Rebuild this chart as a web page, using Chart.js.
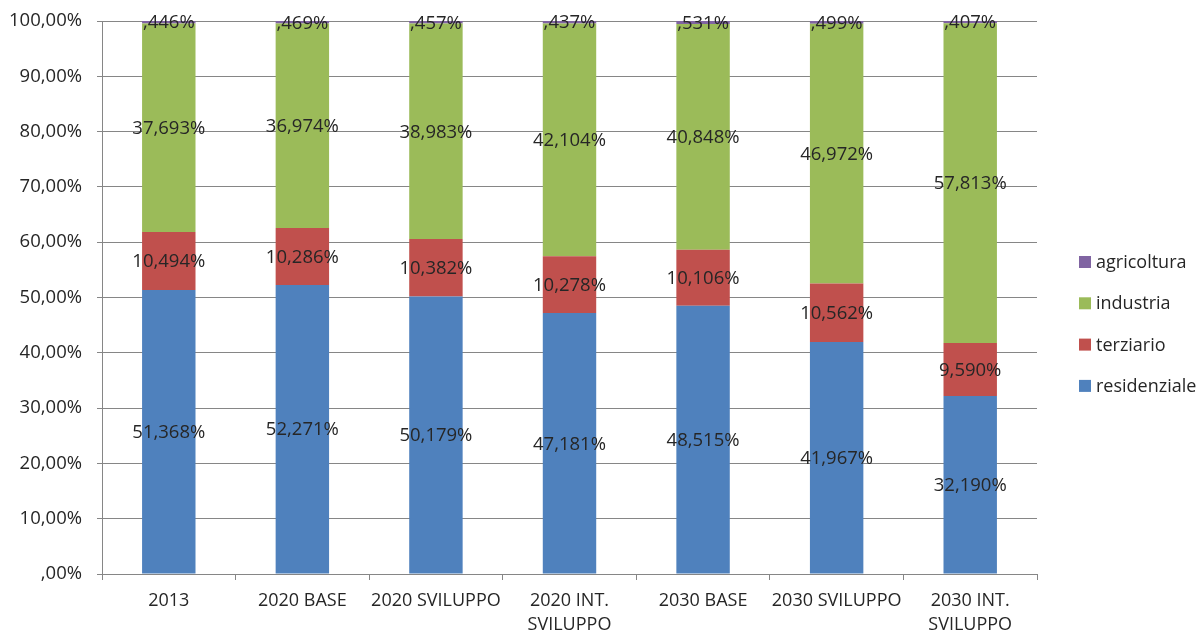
<!DOCTYPE html>
<html>
<head>
<meta charset="utf-8">
<script src="https://cdn.jsdelivr.net/npm/chart.js@4/dist/chart.umd.min.js"></script>
<style>
  html, body { margin: 0; padding: 0; background: #fff; }
  #wrap { width: 1200px; height: 634px; position: relative; }
</style>
</head>
<body>
<div id="wrap"><canvas id="c" width="1200" height="634"></canvas></div>
<script>
// Scenario categories (x axis)
const categories = [
  '2013',
  '2020 BASE',
  '2020 SVILUPPO',
  ['2020 INT.', 'SVILUPPO'],
  '2030 BASE',
  '2030 SVILUPPO',
  ['2030 INT.', 'SVILUPPO']
];

// Share of consumption per sector (%)
const residenziale = [51.368, 52.271, 50.179, 47.181, 48.515, 41.967, 32.190];
const terziario    = [10.494, 10.286, 10.382, 10.278, 10.106, 10.562, 9.590];
const industria    = [37.693, 36.974, 38.983, 42.104, 40.848, 46.972, 57.813];
const agricoltura  = [0.446, 0.469, 0.457, 0.437, 0.531, 0.499, 0.407];

// Y axis tick values (%)
const yTicks = [0, 10, 20, 30, 40, 50, 60, 70, 80, 90, 100];

const FONT = '"Open Sans", sans-serif';
const TEXT = '#262626';
const GRID = '#868686';

// Italian-style number: comma decimal, no leading zero ("0,446" -> ",446")
function fmt(v, digits) {
  let s = v.toFixed(digits).replace('.', ',');
  if (s.startsWith('0,')) s = s.slice(1);
  return s + '%';
}

// Value labels centred in every stacked segment
const segmentLabels = {
  id: 'segmentLabels',
  afterDatasetsDraw(chart) {
    const ctx = chart.ctx;
    ctx.save();
    ctx.font = '18.5px ' + FONT;
    ctx.fillStyle = TEXT;
    ctx.textAlign = 'center';
    ctx.textBaseline = 'middle';
    chart.data.datasets.forEach((ds, i) => {
      const meta = chart.getDatasetMeta(i);
      meta.data.forEach((bar, j) => {
        const y = (bar.y + bar.base) / 2;
        ctx.fillText(fmt(ds.data[j], 3), bar.x, y + 1);
      });
    });
    ctx.restore();
  }
};

// Legend at the right, top entry = last stacked series
const sideLegend = {
  id: 'sideLegend',
  afterDraw(chart) {
    const ctx = chart.ctx;
    const ds = chart.data.datasets.slice().reverse();
    const x0 = 1079, y0 = 262, step = 41.3;
    ctx.save();
    ctx.font = '18px ' + FONT;
    ctx.textBaseline = 'middle';
    ctx.textAlign = 'left';
    ds.forEach((d, k) => {
      const y = y0 + k * step;
      ctx.fillStyle = d.backgroundColor;
      ctx.fillRect(x0, y - 6, 12, 12);
      ctx.fillStyle = TEXT;
      ctx.fillText(d.label, x0 + 17, y + 1);
    });
    ctx.restore();
  }
};

const common = { barPercentage: 0.4, categoryPercentage: 1.0, borderWidth: 0 };

new Chart(document.getElementById('c'), {
  type: 'bar',
  data: {
    labels: categories,
    datasets: [
      Object.assign({ label: 'residenziale', data: residenziale, backgroundColor: '#4F81BD' }, common),
      Object.assign({ label: 'terziario', data: terziario, backgroundColor: '#C0504D' }, common),
      Object.assign({ label: 'industria', data: industria, backgroundColor: '#9BBB59' }, common),
      Object.assign({ label: 'agricoltura', data: agricoltura, backgroundColor: '#8064A2' }, common)
    ]
  },
  options: {
    responsive: false,
    animation: false,
    devicePixelRatio: 1,
    layout: { padding: { top: 21, right: 163, bottom: 0, left: 0 } },
    plugins: {
      legend: { display: false },
      tooltip: { enabled: false }
    },
    scales: {
      x: {
        stacked: true,
        grid: {
          display: true,
          offset: true,
          drawOnChartArea: false,
          drawTicks: true,
          tickLength: 6,
          color: GRID
        },
        border: { display: true, color: GRID, width: 1 },
        ticks: {
          color: TEXT,
          font: { family: FONT, size: 18, lineHeight: 1.33 },
          padding: 9,
          maxRotation: 0,
          autoSkip: false
        },
        afterFit(scale) { scale.height = 60; }
      },
      y: {
        stacked: true,
        min: 0,
        max: 100,
        afterBuildTicks(scale) { scale.ticks = yTicks.map(v => ({ value: v })); },
        grid: {
          color: GRID,
          lineWidth: 1,
          drawTicks: true,
          tickLength: 5
        },
        border: { display: true, color: GRID, width: 1 },
        ticks: {
          color: TEXT,
          font: { family: FONT, size: 18.5 },
          padding: 15,
          callback: v => fmt(v, 2)
        },
        afterFit(scale) {
          scale.width = 102;
          scale.paddingTop = 0;
          scale.paddingBottom = 0;
        }
      }
    }
  },
  plugins: [segmentLabels, sideLegend]
});
</script>
</body>
</html>
